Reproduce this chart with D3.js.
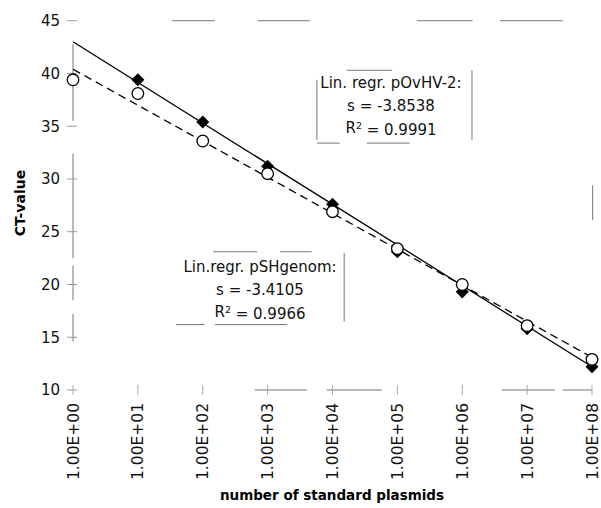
<!DOCTYPE html>
<html lang="en">
<head>
<meta charset="UTF-8">
<title>CT-value vs number of standard plasmids</title>
<script src="https://cdn.jsdelivr.net/npm/d3@7"></script>
<style>
  body { margin: 0; background: #fff; }
  svg { font-family: "DejaVu Sans", "Liberation Sans", sans-serif; }
</style>
</head>
<body>
<div id="chart"></div>
<script>
// plasmid copies (decade exponents) and CT values
const decades = [0, 1, 2, 3, 4, 5, 6, 7, 8]
const tickLabels = ["1.00E+00", "1.00E+01", "1.00E+02", "1.00E+03", "1.00E+04",
                    "1.00E+05", "1.00E+06", "1.00E+07", "1.00E+08"]
const yTicks = [10, 15, 20, 25, 30, 35, 40, 45]

// pOvHV-2 (filled diamonds), no point at 1E+00
const ovhvDecades = [1, 2, 3, 4, 5, 6, 7, 8]
const ovhvCT = [39.4, 35.4, 31.2, 27.6, 23.1, 19.3, 15.8, 12.2]
// pSHgenom (open circles)
const shCT = [39.4, 38.1, 33.6, 30.5, 26.9, 23.4, 20.0, 16.1, 12.9]

// regression line ends at 1E+00 and 1E+08
const ovhvFit = [43.0, 12.2]
const shFit = [40.4, 13.1]

// leftover pieces of the scanned frame: [decade0, ct0, decade1, ct1]
const frameBits = [
  [1.53, 45, 2.19, 45], [2.85, 45, 3.65, 45], [5.30, 45, 6.16, 45], [6.58, 45, 7.55, 45],
  [2.80, 10, 3.61, 10], [3.91, 10, 4.76, 10], [6.61, 10, 7.43, 10], [7.55, 10, 8.0, 10],
  [8.01, 29.4, 8.01, 26.1],
  [0, 42.8, 0, 35.5], [0, 32.4, 0, 22.5], [0, 21.8, 0, 18.5], [0, 17.2, 0, 14.6],
  // box pOvHV-2
  [4.22, 40.3, 4.92, 40.3], [3.76, 33.4, 4.11, 33.4], [4.53, 33.4, 5.19, 33.4],
  [3.76, 39.4, 3.76, 33.7], [6.15, 40.3, 6.15, 33.7],
  // box pSHgenom
  [2.16, 23.1, 2.84, 23.1], [3.19, 23.1, 3.68, 23.1],
  [1.59, 16.2, 2.03, 16.2], [2.19, 16.2, 3.30, 16.2], [4.18, 23.0, 4.18, 16.5]
]

const w = 601
const h = 508

const svg = d3.select("#chart").append("svg")
  .attr("width", w)
  .attr("height", h)

const x = d3.scaleLinear().domain([0, 8]).range([73, 592])
const y = d3.scaleLinear().domain([10, 45]).range([390, 20.7])

// frame fragments
svg.append("g")
  .selectAll("line")
  .data(frameBits)
  .join("line")
  .attr("x1", d => x(d[0])).attr("y1", d => y(d[1]))
  .attr("x2", d => x(d[2])).attr("y2", d => y(d[3]))
  .attr("stroke", "#777")
  .attr("stroke-width", 1)

// y axis ticks and labels
const yAxis = svg.append("g")
yAxis.selectAll("line")
  .data(yTicks)
  .join("line")
  .attr("x1", 67).attr("x2", 77)
  .attr("y1", d => y(d)).attr("y2", d => y(d))
  .attr("stroke", "#999")
yAxis.selectAll("text")
  .data(yTicks)
  .join("text")
  .attr("x", 60)
  .attr("y", d => y(d))
  .attr("dy", "0.36em")
  .attr("text-anchor", "end")
  .style("font-size", "15px")
  .attr("fill", "#111")
  .text(d => d)

// x axis ticks and labels
const xAxis = svg.append("g")
xAxis.selectAll("line")
  .data(decades)
  .join("line")
  .attr("x1", d => x(d)).attr("x2", d => x(d))
  .attr("y1", 385).attr("y2", 395)
  .attr("stroke", "#aaa")
xAxis.selectAll("text")
  .data(decades)
  .join("text")
  .attr("transform", d => `translate(${x(d)},403) rotate(-90)`)
  .attr("dy", "0.36em")
  .attr("text-anchor", "end")
  .style("font-size", "15.5px")
  .attr("fill", "#111")
  .text((d, i) => tickLabels[i])

// axis titles
svg.append("text")
  .attr("x", 332)
  .attr("y", 500)
  .attr("text-anchor", "middle")
  .style("font-size", "13.5px")
  .style("font-weight", "bold")
  .text("number of standard plasmids")

svg.append("text")
  .attr("transform", "translate(25,203) rotate(-90)")
  .attr("text-anchor", "middle")
  .style("font-size", "14px")
  .style("font-weight", "bold")
  .text("CT-value")

// regression lines
svg.append("line")
  .attr("x1", x(0)).attr("y1", y(ovhvFit[0]))
  .attr("x2", x(8)).attr("y2", y(ovhvFit[1]))
  .attr("stroke", "#000")
  .attr("stroke-width", 1.3)

svg.append("line")
  .attr("x1", x(0)).attr("y1", y(shFit[0]))
  .attr("x2", x(8)).attr("y2", y(shFit[1]))
  .attr("stroke", "#000")
  .attr("stroke-width", 1.3)
  .attr("stroke-dasharray", "8,5")

// markers
svg.append("g")
  .selectAll("path")
  .data(ovhvCT)
  .join("path")
  .attr("transform", (d, i) => `translate(${x(ovhvDecades[i])},${y(d)}) rotate(45)`)
  .attr("d", d3.symbol(d3.symbolSquare, 85))
  .attr("fill", "#000")

svg.append("g")
  .selectAll("circle")
  .data(shCT)
  .join("circle")
  .attr("cx", (d, i) => x(decades[i]))
  .attr("cy", d => y(d))
  .attr("r", 5.8)
  .attr("fill", "#fff")
  .attr("stroke", "#000")
  .attr("stroke-width", 1.3)

// regression notes
function note(cx, top, lines) {
  const t = svg.append("text")
    .attr("text-anchor", "middle")
    .style("font-size", "15px")
    .attr("fill", "#111")
  lines.forEach((l, i) => {
    const row = t.append("tspan").attr("x", cx).attr("y", top + i * 22.5)
    if (typeof l === "object") {
      row.text(l.a)
      row.append("tspan").attr("dy", "-0.45em").style("font-size", "9.5px").text("2")
      row.append("tspan").attr("dy", "0.45em").text(l.b)
    } else {
      row.text(l)
    }
  })
}

note(391, 88, ["Lin. regr. pOvHV-2:", "s = -3.8538", { a: "R", b: " = 0.9991" }])
note(260, 272, ["Lin.regr. pSHgenom:", "s = -3.4105", { a: "R", b: " = 0.9966" }])
</script>
</body>
</html>
